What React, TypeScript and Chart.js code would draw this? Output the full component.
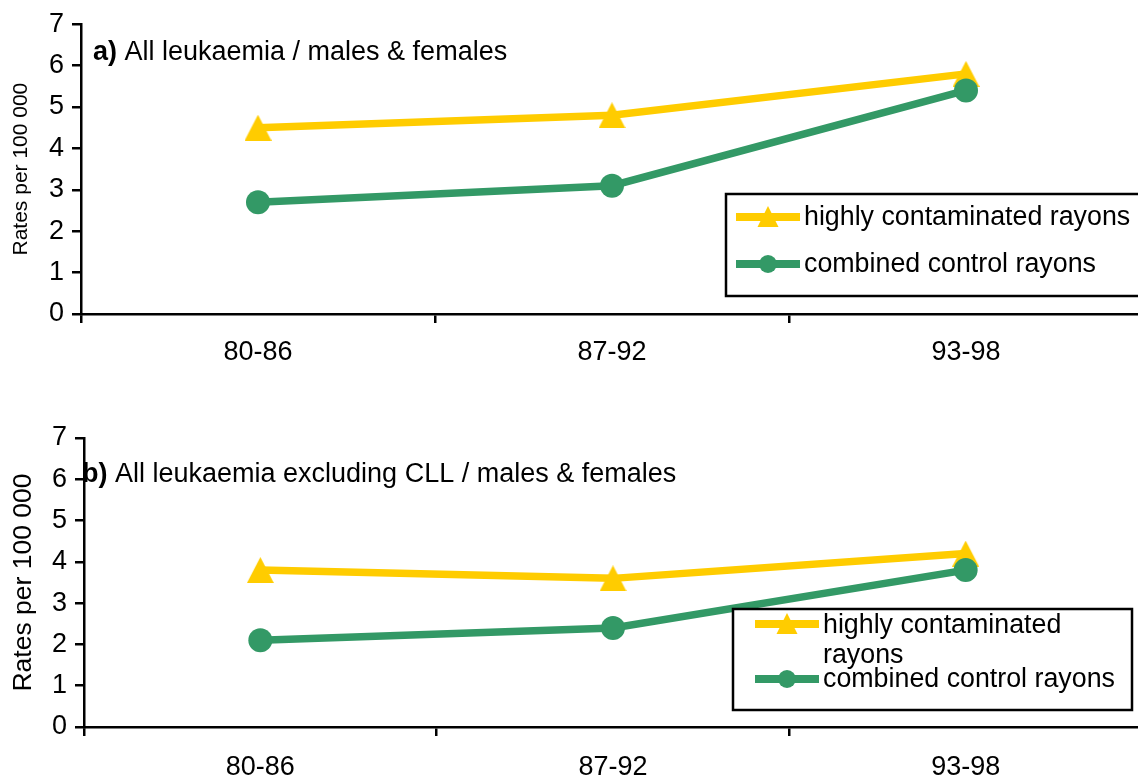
import React, { useEffect, useRef } from "react";
import { Chart, registerables } from "chart.js";

Chart.register(...registerables);

const FONT = "'Liberation Sans', Arial, Helvetica, sans-serif";

const periods = ["80-86", "87-92", "93-98"];
const seriesNames = ["highly contaminated rayons", "combined control rayons"];

const aHighly = [4.5, 4.8, 5.8];
const aControl = [2.7, 3.1, 5.4];

const bHighly = [3.8, 3.6, 4.2];
const bControl = [2.1, 2.4, 3.8];

const yMin = 0;
const yMax = 7;
const yStep = 1;

const YELLOW = "#FFCC00";
const GREEN = "#339966";

type LegendRow = { y: number; lines: { text: string; y: number }[] };

type PanelSpec = {
  high: number[];
  control: number[];
  canvasW: number;
  canvasH: number;
  area: { left: number; top: number; right: number; bottom: number };
  yTitleSize: number;
  yTitlePad: number;
  xTickPad: number;
  titleBold: string;
  titleRest: string;
  titleX: number;
  titleY: number;
  legend: { x: number; y: number; w: number; h: number; lineX0: number; lineX1: number; textX: number; rows: LegendRow[] };
};

const panels: PanelSpec[] = [
  {
    high: aHighly,
    control: aControl,
    canvasW: 1146,
    canvasH: 390,
    area: { left: 81, top: 24, right: 1143, bottom: 314 },
    yTitleSize: 21,
    yTitlePad: 9,
    xTickPad: 13,
    titleBold: "a)",
    titleRest: " All leukaemia / males & females",
    titleX: 93,
    titleY: 60,
    legend: {
      x: 726, y: 194, w: 430, h: 102, lineX0: 736, lineX1: 800, textX: 804,
      rows: [
        { y: 217, lines: [{ text: seriesNames[0], y: 218 }] },
        { y: 264, lines: [{ text: seriesNames[1], y: 265 }] },
      ],
    },
  },
  {
    high: bHighly,
    control: bControl,
    canvasW: 1146,
    canvasH: 388,
    area: { left: 84, top: 48, right: 1142, bottom: 337 },
    yTitleSize: 26.5,
    yTitlePad: 8,
    xTickPad: 15,
    titleBold: "b)",
    titleRest: " All leukaemia excluding CLL / males & females",
    titleX: 82,
    titleY: 92,
    legend: {
      x: 733, y: 219, w: 399, h: 101, lineX0: 755, lineX1: 819, textX: 823,
      rows: [
        { y: 234, lines: [{ text: "highly contaminated", y: 236 }, { text: "rayons", y: 266 }] },
        { y: 289, lines: [{ text: seriesNames[1], y: 290 }] },
      ],
    },
  },
];

function triangleImage(w: number, h: number, color: string): HTMLCanvasElement {
  const c = document.createElement("canvas");
  c.width = w;
  c.height = h;
  const g = c.getContext("2d")!;
  g.fillStyle = color;
  g.beginPath();
  g.moveTo(w / 2, 0);
  g.lineTo(w, h);
  g.lineTo(0, h);
  g.closePath();
  g.fill();
  return c;
}

const decorPlugin = {
  id: "panelDecor",
  afterDraw(chart: any, _args: any, opts: any) {
    const p: PanelSpec = opts.spec;
    if (!p) return;
    const ctx: CanvasRenderingContext2D = chart.ctx;
    ctx.save();
    // Panel title
    ctx.fillStyle = "#000";
    ctx.textAlign = "left";
    ctx.textBaseline = "alphabetic";
    ctx.font = `bold 27px ${FONT}`;
    ctx.fillText(p.titleBold, p.titleX, p.titleY);
    const bw = ctx.measureText(p.titleBold).width;
    ctx.font = `27px ${FONT}`;
    ctx.fillText(p.titleRest, p.titleX + bw, p.titleY);

    // Legend box
    const L = p.legend;
    ctx.fillStyle = "#fff";
    ctx.fillRect(L.x, L.y, L.w, L.h);
    ctx.lineWidth = 2.5;
    ctx.strokeStyle = "#000";
    ctx.strokeRect(L.x, L.y, L.w, L.h);

    chart.data.datasets.forEach((ds: any, i: number) => {
      const row = L.rows[i];
      if (!row) return;
      ctx.strokeStyle = ds.borderColor;
      ctx.lineWidth = 8;
      ctx.beginPath();
      ctx.moveTo(L.lineX0, row.y);
      ctx.lineTo(L.lineX1, row.y);
      ctx.stroke();
      const cx = (L.lineX0 + L.lineX1) / 2;
      ctx.fillStyle = ds.backgroundColor;
      ctx.beginPath();
      if (ds.legendMarker === "triangle") {
        ctx.moveTo(cx, row.y - 11);
        ctx.lineTo(cx + 10.5, row.y + 10);
        ctx.lineTo(cx - 10.5, row.y + 10);
        ctx.closePath();
      } else {
        ctx.arc(cx, row.y, 9, 0, Math.PI * 2);
      }
      ctx.fill();
      ctx.fillStyle = "#000";
      ctx.font = `26.8px ${FONT}`;
      ctx.textBaseline = "middle";
      row.lines.forEach((ln) => ctx.fillText(ln.text, L.textX, ln.y));
    });
    ctx.restore();
  },
};

function makeConfig(p: PanelSpec): any {
  const tri = triangleImage(27, 26, YELLOW);
  return {
    type: "line",
    data: {
      labels: periods,
      datasets: [
        {
          label: seriesNames[0],
          data: p.high,
          borderColor: YELLOW,
          backgroundColor: YELLOW,
          borderWidth: 7.5,
          pointStyle: tri,
          legendMarker: "triangle",
          pointRadius: 13,
          pointBorderWidth: 0,
          pointHoverRadius: 13,
          order: 1,
          clip: false,
        },
        {
          label: seriesNames[1],
          data: p.control,
          borderColor: GREEN,
          backgroundColor: GREEN,
          borderWidth: 7.5,
          pointStyle: "circle",
          legendMarker: "circle",
          pointRadius: 12,
          pointBorderWidth: 0,
          pointHoverRadius: 12,
          order: 0,
          clip: false,
        },
      ],
    },
    options: {
      responsive: false,
      animation: false,
      events: [],
      layout: {
        autoPadding: false,
        padding: { left: 0, top: p.area.top, right: p.canvasW - p.area.right, bottom: 0 },
      },
      plugins: {
        legend: { display: false },
        tooltip: { enabled: false },
        title: { display: false },
        panelDecor: { spec: p },
      },
      scales: {
        x: {
          type: "category",
          offset: true,
          grid: {
            display: true,
            drawOnChartArea: false,
            drawTicks: true,
            offset: true,
            tickLength: 9,
            color: "#000",
            lineWidth: 2.5,
          },
          border: { display: true, color: "#000", width: 2.5 },
          ticks: {
            color: "#000",
            font: { family: FONT, size: 27 },
            padding: p.xTickPad,
            maxRotation: 0,
            autoSkip: false,
          },
          afterFit(scale: any) {
            scale.height = p.canvasH - p.area.bottom;
          },
        },
        y: {
          min: yMin,
          max: yMax,
          grid: {
            display: true,
            drawOnChartArea: false,
            drawTicks: true,
            tickLength: 9,
            color: "#000",
            lineWidth: 2.5,
          },
          border: { display: true, color: "#000", width: 2.5 },
          ticks: {
            stepSize: yStep,
            color: "#000",
            font: { family: FONT, size: 27 },
            padding: 8,
          },
          title: {
            display: true,
            text: "Rates per 100 000",
            color: "#000",
            font: { family: FONT, size: p.yTitleSize },
            padding: { top: p.yTitlePad, bottom: 0 },
          },
          afterFit(scale: any) {
            scale.width = p.area.left;
          },
        },
      },
    },
    plugins: [decorPlugin],
  };
}

function Panel({ spec, top }: { spec: PanelSpec; top: number }) {
  const ref = useRef<HTMLCanvasElement | null>(null);
  useEffect(() => {
    if (!ref.current) return;
    const chart = new Chart(ref.current, makeConfig(spec));
    return () => chart.destroy();
  }, [spec]);
  return (
    <canvas
      ref={ref}
      width={spec.canvasW}
      height={spec.canvasH}
      style={{ position: "absolute", left: 0, top, width: spec.canvasW, height: spec.canvasH }}
    />
  );
}

export default function App() {
  return (
    <div
      style={{
        position: "absolute",
        left: 0,
        top: 0,
        width: 1138,
        height: 778,
        overflow: "hidden",
        background: "#fff",
      }}
    >
      <Panel spec={panels[0]} top={0} />
      <Panel spec={panels[1]} top={390} />
    </div>
  );
}
